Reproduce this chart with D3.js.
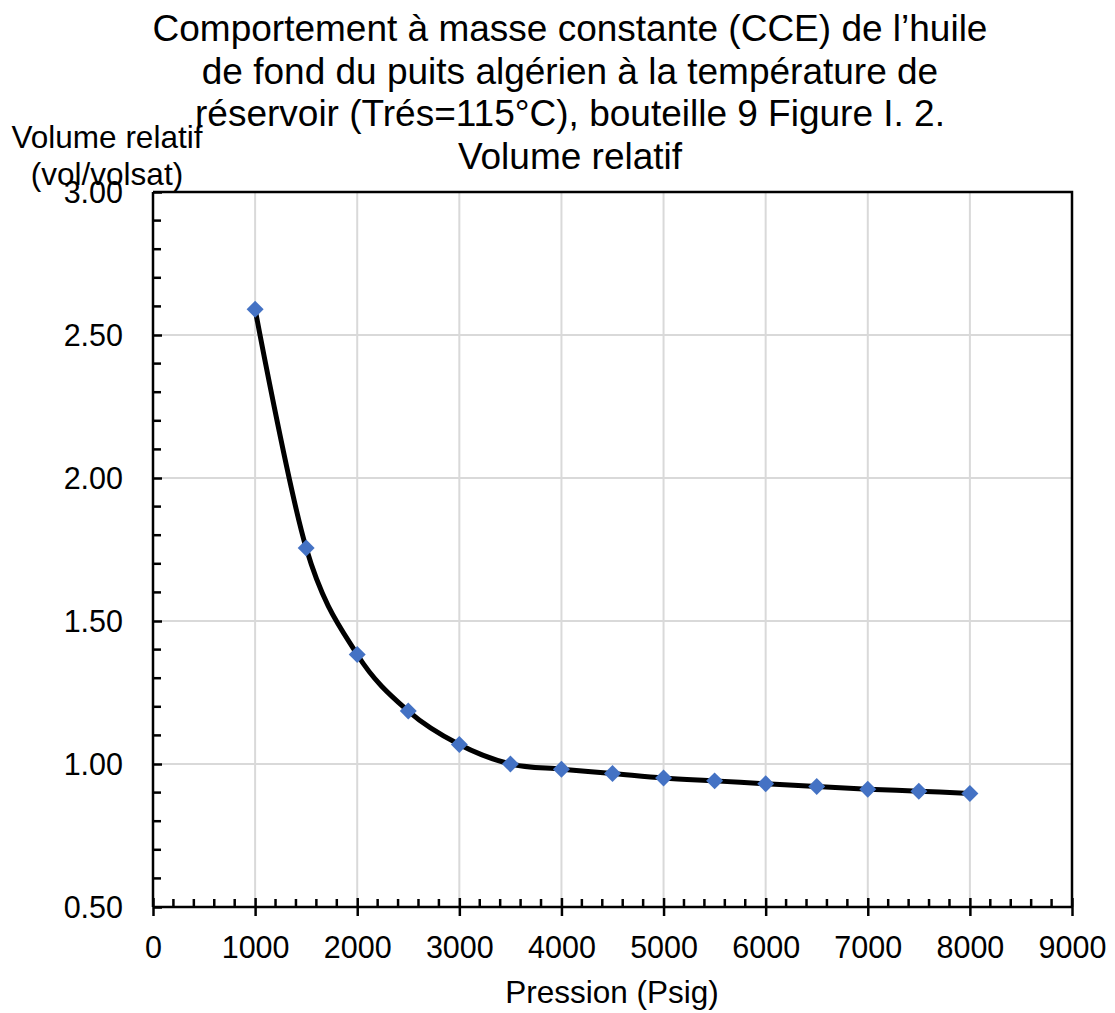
<!DOCTYPE html>
<html>
<head>
<meta charset="utf-8">
<script src="https://cdn.jsdelivr.net/npm/d3@7"></script>
<style>
  html, body { margin: 0; padding: 0; background: #fff; }
  svg { display: block; font-family: "Liberation Sans", Arial, sans-serif; }
</style>
</head>
<body>
<svg id="chart" width="1115" height="1013"></svg>
<script>
// ---- data ----
const pressions = [1000, 1500, 2000, 2500, 3000, 3500, 4000, 4500, 5000, 5500, 6000, 6500, 7000, 7500, 8000];
const volumeRelatif = [2.59, 1.755, 1.383, 1.185, 1.068, 1.0, 0.982, 0.967, 0.951, 0.941, 0.931, 0.921, 0.912, 0.905, 0.897];
const xTicks = [0, 1000, 2000, 3000, 4000, 5000, 6000, 7000, 8000, 9000];
const yTicks = [0.5, 1.0, 1.5, 2.0, 2.5, 3.0];
const titleLines = [
  "Comportement à masse constante (CCE) de l’huile",
  "de fond du puits algérien à la température de",
  "réservoir (Trés=115°C), bouteille 9 Figure I. 2.",
  "Volume relatif"
];
const yTitleLines = ["Volume relatif", "(vol/volsat)"];
const xTitle = "Pression (Psig)";

// ---- layout ----
const svg = d3.select("#chart");
const pL = 153, pR = 1072, pT = 192, pB = 907;
const x = d3.scaleLinear().domain([0, 9000]).range([pL, pR]);
const y = d3.scaleLinear().domain([0.5, 3.0]).range([pB, pT]);
const fsTick = 30.5;
const fsAxis = 31.5;
const fsTitle = 37;
const ff = "Liberation Sans, Arial, sans-serif";

// gridlines
svg.append("g").selectAll("line").data(xTicks.slice(1)).join("line")
  .attr("x1", d => x(d)).attr("x2", d => x(d)).attr("y1", pT).attr("y2", pB)
  .attr("stroke", "#d9d9d9").attr("stroke-width", 2);
svg.append("g").selectAll("line").data(yTicks.slice(1)).join("line")
  .attr("x1", pL).attr("x2", pR).attr("y1", d => y(d)).attr("y2", d => y(d))
  .attr("stroke", "#d9d9d9").attr("stroke-width", 2);

// frame (top & right)
svg.append("path")
  .attr("d", `M${pL},${pT}H${pR}V${pB}`)
  .attr("fill", "none").attr("stroke", "#000").attr("stroke-width", 2.5);

// x axis
const xMinor = d3.range(0, 9001, 200).filter(v => v % 1000 !== 0);
const xAxis = svg.append("g").attr("transform", `translate(0,${pB})`)
  .call(d3.axisBottom(x).tickValues(xTicks).tickFormat(d3.format("d")).tickSize(9).tickPadding(20));
xAxis.select(".domain").attr("stroke-width", 2.5).attr("d", `M${pL},0H${pR}`);
xAxis.selectAll(".tick line").attr("y1", -9).attr("stroke-width", 2.5);
xAxis.selectAll(".tick text").attr("font-size", fsTick).attr("font-family", ff).attr("fill", "#000");
xAxis.selectAll("line.minor").data(xMinor).join("line").attr("class", "minor")
  .attr("x1", d => x(d)).attr("x2", d => x(d)).attr("y1", 0).attr("y2", -8)
  .attr("stroke", "#000").attr("stroke-width", 2.5);

// y axis
const yMinor = d3.range(5, 31, 1).map(v => v / 10).filter(v => Math.round(v * 10) % 5 !== 0);
const yAxis = svg.append("g").attr("transform", `translate(${pL},0)`)
  .call(d3.axisLeft(y).tickValues(yTicks).tickFormat(d3.format(".2f")).tickSize(10).tickPadding(20));
yAxis.select(".domain").attr("stroke-width", 2.5).attr("d", `M0,${pB}V${pT}`);
yAxis.selectAll(".tick line").attr("x2", 9).attr("stroke-width", 2.5);
yAxis.selectAll(".tick text").attr("font-size", fsTick).attr("font-family", ff).attr("fill", "#000").attr("dy", "0.35em");
yAxis.selectAll("line.minor").data(yMinor).join("line").attr("class", "minor")
  .attr("x1", 0).attr("x2", 8).attr("y1", d => y(d)).attr("y2", d => y(d))
  .attr("stroke", "#000").attr("stroke-width", 2.5);

// curve
const pts = pressions.map((p, i) => [p, volumeRelatif[i]]);
svg.append("path").datum(pts)
  .attr("d", d3.line().x(d => x(d[0])).y(d => y(d[1])).curve(d3.curveCatmullRom.alpha(0)))
  .attr("fill", "none").attr("stroke", "#000").attr("stroke-width", 5);

// markers
svg.append("g").selectAll("path").data(pts).join("path")
  .attr("transform", d => `translate(${x(d[0])},${y(d[1])}) rotate(45)`)
  .attr("d", "M-6,-6H6V6H-6Z")
  .attr("fill", "#4472C4");

// title
const t = svg.append("text").attr("text-anchor", "middle").attr("font-size", fsTitle).attr("fill", "#000");
titleLines.forEach((s, i) => {
  t.append("tspan").attr("x", 570).attr("y", 41 + i * 42.5).text(s);
});

// y title
const yt = svg.append("text").attr("text-anchor", "middle").attr("font-size", fsAxis).attr("fill", "#000");
yTitleLines.forEach((s, i) => {
  yt.append("tspan").attr("x", 107).attr("y", 148 + i * 37).text(s);
});

// x title
svg.append("text").attr("x", 612).attr("y", 1003).attr("text-anchor", "middle")
  .attr("font-size", fsAxis).attr("fill", "#000").text(xTitle);
</script>
</body>
</html>
